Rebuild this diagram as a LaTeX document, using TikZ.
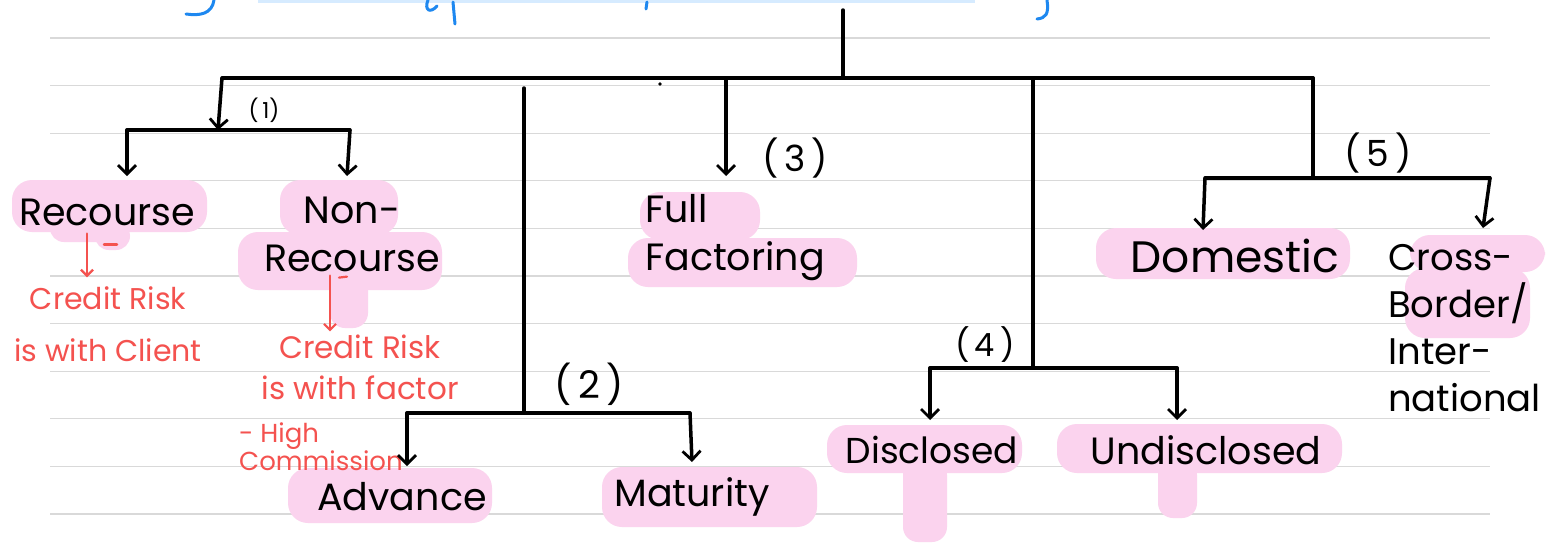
\documentclass[tikz,border=0pt]{standalone}
\usepackage{fontspec}
\setmainfont{Poppins}
\usetikzlibrary{arrows.meta}
\definecolor{hl}{HTML}{FBD3EE}
\definecolor{redink}{HTML}{F4524F}
\definecolor{blueink}{HTML}{1E88F0}
\definecolor{ruleline}{HTML}{D9D9D9}
\definecolor{bluehl}{HTML}{D6EBFF}
\begin{document}
\begin{tikzpicture}[x=1pt,y=-1pt,
  tree/.style={line width=3.5pt, line cap=round, line join=round},
  arr/.style={tree, -{Straight Barb[length=9pt,width=18pt,line width=2.8pt]}},
  redarr/.style={redink, line width=2.5pt, line cap=round, -{Straight Barb[length=6pt,width=12pt,line width=2.2pt]}},
  word/.style={font=\fontsize{38}{48}\selectfont, inner sep=2pt},
  note/.style={text=redink, font=\fontsize{30}{52}\selectfont, inner sep=1pt, align=center},
  num/.style={font=\fontsize{36}{38}\selectfont, inner sep=1pt},
  hlfill/.style={fill=hl, rounded corners=20pt}]
\useasboundingbox (0,0) rectangle (1563,544);
\fill[white] (0,0) rectangle (1563,544);
% ruled lines
\foreach \yy in {38,85.6,133.2,180.8,228.4,276,323.6,371.2,418.8,466.4,514}
  \draw[ruleline, line width=1.3pt] (50,\yy) -- (1490,\yy);
% partial title at top
\fill[bluehl] (258,0) rectangle (975,2.5);
\draw[blueink, line width=3pt, line cap=round] (214,0) .. controls (212,14) and (200,16) .. (186,14);
\draw[blueink, line width=3pt, line cap=round] (428,0) .. controls (424,10) and (430,14) .. (437,6);
\draw[blueink, line width=3pt, line cap=round] (453,2) -- (455,24);
\draw[blueink, line width=3pt, line cap=round] (647,2) -- (646,9);
\draw[blueink, line width=3pt, line cap=round] (1047,0) .. controls (1049,14) and (1046,18) .. (1037,19);
% highlights
\fill[hlfill] (12,180) rectangle (207,232);
\fill[hlfill, rounded corners=14pt] (50,215) rectangle (125,242);
\fill[hlfill, rounded corners=14pt] (95,222) rectangle (130,250);
\fill[hlfill] (280,180) rectangle (398,235);
\fill[hlfill] (238,232) rectangle (442,290);
\fill[hlfill, rounded corners=15pt] (330,270) rectangle (368,328);
\fill[hlfill] (640,192) rectangle (760,240);
\fill[hlfill] (628,238) rectangle (857,287);
\fill[hlfill] (288,468) rectangle (492,523);
\fill[hlfill] (602,467) rectangle (817,527);
\fill[hlfill] (827,425) rectangle (1022,473);
\fill[hlfill, rounded corners=15pt] (903,460) rectangle (947,542);
\fill[hlfill] (1057,424) rectangle (1342,473);
\fill[hlfill, rounded corners=15pt] (1158,460) rectangle (1197,518);
\fill[hlfill] (1096,228) rectangle (1350,279);
\fill[hlfill] (1410,235) rectangle (1545,272);
\fill[hlfill] (1405,268) rectangle (1530,338);
% labels
\node[word] (recourse) at (107,212) {Recourse};
\node[word, align=center] (nonrec) at (352,234) {Non-\\Recourse};
\node[word, align=left, anchor=west] (full) at (643,238) {Full\\Factoring};
\node[word] (advance) at (402,497) {Advance};
\node[word] (maturity) at (692,497) {Maturity};
\node[word, font=\fontsize{36}{48}\selectfont] (disclosed) at (932,450) {Disclosed};
\node[word] (undisclosed) at (1206,450) {Undisclosed};
\node[word, font=\fontsize{44}{48}\selectfont] (domestic) at (1235,256) {Domestic};
\node[word, font=\fontsize{37}{47}\selectfont, align=left, anchor=west] (cross) at (1386,328) {Cross-\\Border/\\Inter-\\national};
% red notes
\node[note] (n1) at (108,324) {Credit Risk\\is with Client};
\node[note, font=\fontsize{31}{41}\selectfont] (n2) at (360,367) {Credit Risk\\is with factor};
\node[note, font=\fontsize{26}{23}\selectfont, align=left, anchor=west] (n3) at (238,447) {- High\\Commission};
\draw[redarr] ([xshift=-20pt,yshift=-6pt]recourse.south) -- ([xshift=-21pt,yshift=8pt]n1.north);
\draw[redink, line width=2.5pt, line cap=round] ([xshift=-3pt,yshift=-17pt]recourse.south) -- ([xshift=10pt,yshift=-17pt]recourse.south);
\draw[redarr] ([xshift=-22pt,yshift=-2pt]nonrec.south) -- ([xshift=-30pt,yshift=2pt]n2.north);
\draw[redink, line width=2.2pt, line cap=round] ([xshift=-13pt,yshift=-4pt]nonrec.south) -- ([xshift=-5pt,yshift=-3pt]nonrec.south);
% tree skeleton
\coordinate (top) at (843,10);
\coordinate (j) at (843,78);
\coordinate (barL) at (222,78);
\coordinate (barR) at (1313,78);
\draw[tree] (top) -- (j);
\draw[tree] (barL) -- (barR);
\fill (660,84) circle (1.8pt);
% branch 1
\coordinate (b1L) at (127,130);
\coordinate (b1M) at (218,130);
\coordinate (b1R) at (350,130);
\draw[arr] (barL) -- (b1M);
\draw[tree] (b1L) -- (b1R);
\draw[arr] (b1L) -- (127,176);
\draw[arr] (b1R) -- (347,176);
\node[num, font=\fontsize{22}{24}\selectfont] (l1) at (264,110) {(\,1)};
% branch 2
\coordinate (v2top) at (524,88);
\coordinate (v2) at (524,413);
\coordinate (b2L) at (407,413);
\coordinate (b2R) at (690,413);
\draw[tree] (v2top) -- (v2);
\draw[tree] (b2L) -- (b2R);
\draw[arr] (b2L) -- (407,466);
\draw[arr] (b2R) -- (692,462);
\node[num, font=\fontsize{38}{40}\selectfont] (l2) at (589,384) {(\,2\,)};
% branch 3
\coordinate (b3) at (726,78);
\draw[arr] (b3) -- (726,176);
\node[num] (l3) at (795,158) {(\,3\,)};
% branch 4
\coordinate (b4) at (1033,78);
\coordinate (b4M) at (1033,368);
\coordinate (b4L) at (930,368);
\coordinate (b4R) at (1177,368);
\draw[tree] (b4) -- (b4M);
\draw[tree] (b4L) -- (b4R);
\draw[arr] (b4L) -- (930,420);
\draw[arr] (b4R) -- (1177,420);
\node[num, font=\fontsize{32}{34}\selectfont] (l4) at (985,345) {(\,4\,)};
% branch 5
\coordinate (b5M) at (1313,178);
\coordinate (b5L) at (1205,178);
\coordinate (b5R) at (1490,178);
\draw[tree] (barR) -- (b5M);
\draw[tree] (b5L) -- (b5R);
\draw[arr] (b5L) -- (1203,230);
\draw[arr] (b5R) -- (1483,228);
\node[num] (l5) at (1378,153) {(\,5\,)};
\end{tikzpicture}
\end{document}
